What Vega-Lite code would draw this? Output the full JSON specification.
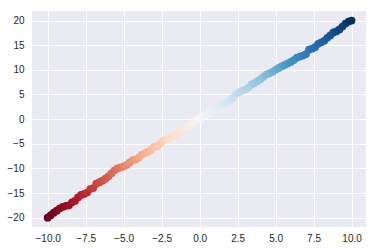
{
  "$schema": "https://vega.github.io/schema/vega-lite/v6.json",
  "width": 334,
  "height": 216,
  "autosize": {"type": "none"},
  "padding": {"left": 32, "top": 11, "right": 10, "bottom": 24},
  "background": "white",
  "config": {
    "view": {"fill": "#EAEAF2", "stroke": null},
    "axis": {
      "grid": true, "gridColor": "white", "gridWidth": 1,
      "domain": false, "ticks": false,
      "labelFont": "Liberation Sans", "labelFontSize": 10, "labelColor": "#262626",
      "labelPadding": 8, "title": null
    }
  },
  "data": {"values": [
    {"x": -10.0, "y": -20.0}, {"x": -9.8, "y": -19.5}, {"x": -9.6, "y": -19.0}, {"x": -9.4, "y": -18.6},
    {"x": -9.2, "y": -18.1}, {"x": -9.0, "y": -17.8}, {"x": -8.8, "y": -17.6}, {"x": -8.6, "y": -17.5},
    {"x": -8.4, "y": -16.9}, {"x": -8.2, "y": -16.6}, {"x": -8.0, "y": -15.9}, {"x": -7.8, "y": -15.4},
    {"x": -7.6, "y": -15.2}, {"x": -7.4, "y": -14.9}, {"x": -7.2, "y": -14.2}, {"x": -7.0, "y": -14.0},
    {"x": -6.8, "y": -13.1}, {"x": -6.6, "y": -12.8}, {"x": -6.4, "y": -12.5}, {"x": -6.2, "y": -12.1},
    {"x": -6.0, "y": -11.6}, {"x": -5.8, "y": -11.0}, {"x": -5.6, "y": -10.4}, {"x": -5.4, "y": -10.0},
    {"x": -5.2, "y": -9.8}, {"x": -5.0, "y": -9.6}, {"x": -4.8, "y": -9.3}, {"x": -4.6, "y": -8.8},
    {"x": -4.4, "y": -8.3}, {"x": -4.2, "y": -8.2}, {"x": -4.0, "y": -7.8}, {"x": -3.8, "y": -7.2},
    {"x": -3.6, "y": -6.9}, {"x": -3.4, "y": -6.6}, {"x": -3.2, "y": -6.2}, {"x": -3.0, "y": -5.7},
    {"x": -2.8, "y": -5.5}, {"x": -2.6, "y": -5.0}, {"x": -2.4, "y": -4.4}, {"x": -2.2, "y": -4.1},
    {"x": -2.0, "y": -3.9}, {"x": -1.8, "y": -3.6}, {"x": -1.6, "y": -3.2}, {"x": -1.4, "y": -2.7},
    {"x": -1.2, "y": -2.3}, {"x": -1.0, "y": -1.8}, {"x": -0.8, "y": -1.5}, {"x": -0.6, "y": -1.0},
    {"x": -0.4, "y": -0.6}, {"x": -0.2, "y": -0.2}, {"x": 0.0, "y": 0.1}, {"x": 0.2, "y": 0.5},
    {"x": 0.4, "y": 0.8}, {"x": 0.6, "y": 1.1}, {"x": 0.8, "y": 1.5}, {"x": 1.0, "y": 1.9},
    {"x": 1.2, "y": 2.5}, {"x": 1.4, "y": 2.9}, {"x": 1.6, "y": 3.2}, {"x": 1.8, "y": 3.5},
    {"x": 2.0, "y": 3.9}, {"x": 2.2, "y": 4.3}, {"x": 2.4, "y": 5.1}, {"x": 2.6, "y": 5.5},
    {"x": 2.8, "y": 5.8}, {"x": 3.0, "y": 6.0}, {"x": 3.2, "y": 6.4}, {"x": 3.4, "y": 7.0},
    {"x": 3.6, "y": 7.3}, {"x": 3.8, "y": 7.7}, {"x": 4.0, "y": 8.1}, {"x": 4.2, "y": 8.6},
    {"x": 4.4, "y": 9.1}, {"x": 4.6, "y": 9.3}, {"x": 4.8, "y": 9.6}, {"x": 5.0, "y": 10.0},
    {"x": 5.2, "y": 10.4}, {"x": 5.4, "y": 10.7}, {"x": 5.6, "y": 11.0}, {"x": 5.8, "y": 11.3},
    {"x": 6.0, "y": 11.6}, {"x": 6.2, "y": 12.0}, {"x": 6.4, "y": 12.5}, {"x": 6.6, "y": 12.7},
    {"x": 6.8, "y": 12.9}, {"x": 7.0, "y": 13.2}, {"x": 7.2, "y": 14.1}, {"x": 7.4, "y": 14.3},
    {"x": 7.6, "y": 14.6}, {"x": 7.8, "y": 15.3}, {"x": 8.0, "y": 15.6}, {"x": 8.2, "y": 15.9},
    {"x": 8.4, "y": 16.5}, {"x": 8.6, "y": 17.0}, {"x": 8.8, "y": 17.6}, {"x": 9.0, "y": 17.8},
    {"x": 9.2, "y": 18.2}, {"x": 9.4, "y": 18.8}, {"x": 9.6, "y": 19.4}, {"x": 9.8, "y": 19.8},
    {"x": 10.0, "y": 20.0}
  ]},
  "mark": {"type": "point", "shape": "circle", "filled": true, "opacity": 1, "size": 60},
  "encoding": {
    "x": {"field": "x", "type": "quantitative",
          "scale": {"domain": [-11.03, 10.95], "nice": false, "zero": false},
          "axis": {"values": [-10, -7.5, -5, -2.5, 0, 2.5, 5, 7.5, 10], "format": ".1f", "labelPadding": 6}},
    "y": {"field": "y", "type": "quantitative",
          "scale": {"domain": [-21.9, 21.95], "nice": false, "zero": false},
          "axis": {"values": [-20, -15, -10, -5, 0, 5, 10, 15, 20], "format": "d"}},
    "color": {"field": "x", "type": "quantitative",
              "scale": {"domain": [-10, -8, -6, -4, -2, 0, 2, 4, 6, 8, 10],
                        "range": ["#67001f", "#b2182b", "#d6604d", "#f4a582", "#fddbc7", "#f7f7f7", "#d1e5f0", "#92c5de", "#4393c3", "#2166ac", "#053061"],
                        "interpolate": "rgb"},
              "legend": null}
  }
}
